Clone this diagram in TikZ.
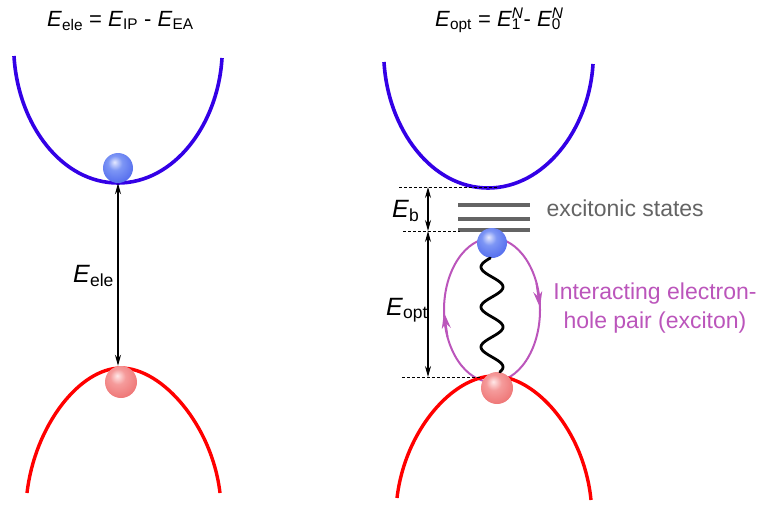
\documentclass[tikz,border=0pt]{standalone}
\usepackage{fontspec}
\setmainfont{Liberation Sans}
\usetikzlibrary{arrows.meta,positioning}
\usepackage{xcolor}

\definecolor{cbblue}{RGB}{51,0,230}
\definecolor{vbred}{RGB}{255,0,0}
\definecolor{excpurple}{RGB}{187,85,187}
\definecolor{stategray}{RGB}{100,100,100}
\definecolor{ehi}{RGB}{228,232,255}
\definecolor{emid}{RGB}{125,150,245}
\definecolor{ebody}{RGB}{70,95,235}
\definecolor{eedge}{RGB}{35,55,215}
\definecolor{hhi}{RGB}{255,232,232}
\definecolor{hmid}{RGB}{245,155,155}
\definecolor{hbody}{RGB}{236,105,105}
\definecolor{hedge}{RGB}{222,72,72}
\pgfdeclareradialshading{eshade}{\pgfpoint{-6bp}{10bp}}{color(0bp)=(ehi); color(12bp)=(emid); color(38bp)=(ebody); color(56bp)=(eedge); color(70bp)=(eedge)}
\pgfdeclareradialshading{hshade}{\pgfpoint{-6bp}{10bp}}{color(0bp)=(hhi); color(12bp)=(hmid); color(38bp)=(hbody); color(56bp)=(hedge); color(70bp)=(hedge)}

\begin{document}
\begin{tikzpicture}[
    x=1pt, y=-1pt,
    cb/.style={draw=cbblue, line width=3.6pt},
    vb/.style={draw=vbred, line width=3.4pt},
    elec/.style={circle, minimum size=30pt, inner sep=0pt, shading=eshade},
    hole/.style={circle, minimum size=32pt, inner sep=0pt, shading=hshade},
    gap/.style={{Stealth[length=11pt,width=6pt]}-{Stealth[length=11pt,width=6pt]}, line width=1.1pt},
    guide/.style={dash pattern=on 3pt off 2pt, line width=1pt},
    level/.style={draw=stategray, line width=3.4pt},
    exloop/.style={draw=excpurple, line width=2pt},
    looptip/.style={exloop, -{Stealth[length=16pt,width=9pt]}},
    lbl/.style={font=\fontsize{25}{30}\selectfont, anchor=base west, inner sep=0pt},
    ttl/.style={font=\fontsize{22}{26}\selectfont, anchor=base west, inner sep=0pt},
    txt/.style={font=\fontsize{23}{29}\selectfont, align=center}
]
\useasboundingbox (0,0) rectangle (765,506);

% titles
\node[ttl] (ttlele) at (47,26) {\textit{E}\textsubscript{ele} = \textit{E}\textsubscript{IP} - \textit{E}\textsubscript{EA}};
\node[ttl] (ttlopt) at (435,26) {\textit{E}\textsubscript{opt} = \textit{E}\rlap{\textsubscript{1}}\textsuperscript{\textit{N}}- \textit{E}\rlap{\textsubscript{0}}\textsuperscript{\textit{N}}};

% bands
\draw[cb] (14,56) .. controls (18,125) and (62,183) .. (118,183) .. controls (174,183) and (218,125) .. (222,58);
\draw[vb] (27,493) .. controls (35,425) and (80,368) .. (121,368) .. controls (162,368) and (212,425) .. (220,493);
\draw[cb] (384,62) .. controls (388,130) and (432,188) .. (488,188) .. controls (544,188) and (589,130) .. (593,64);

% exciton loop
\coordinate (loopc) at (492,310);
\draw[exloop] (loopc) ellipse [x radius=48, y radius=72];
\draw[looptip] ([shift={(158:48 and 72)}]loopc) -- ([shift={(178:48 and 72)}]loopc);
\draw[looptip] ([shift={(338:48 and 72)}]loopc) -- ([shift={(358:48 and 72)}]loopc);

\draw[vb] (397,498) .. controls (405,430) and (453,376) .. (494,376) .. controls (535,376) and (584,430) .. (591,500);

% excitonic levels
\draw[level] (458,205) -- (530,205);
\draw[level] (458,219) -- (530,219);
\draw[level] (458,230) -- (530,230);
\node[txt, text=stategray, anchor=west] (states) at (543,208) {excitonic states};
\node[txt, text=excpurple] (pair) at (655,308) {Interacting electron-\\hole pair (exciton)};

% guides and gaps
\coordinate (cbmin) at (399,187);
\coordinate (cbminend) at (498,187);
\coordinate (xsmin) at (403,231);
\coordinate (xsminend) at (460,231);
\coordinate (vbmax) at (402,377);
\coordinate (vbmaxend) at (482,377);
\draw[guide] (cbmin) -- (cbminend);
\draw[guide] (xsmin) -- (xsminend);
\draw[guide] (vbmax) -- (vbmaxend);

\coordinate (gtop) at (428,187);
\coordinate (gmid) at (428,231);
\coordinate (gbot) at (428,377);
\draw[gap] (gtop) -- (gmid);
\draw[gap] (gmid) -- (gbot);
\node[lbl] (eb) at (392,217) {\textit{E}\textsubscript{b}};
\node[lbl] (eopt) at (386,315) {\textit{E}\textsubscript{opt}};

% particles
\node[elec] (eL) at (118,168) {};
\node[hole] (hL) at (121,382) {};
\node[elec] (eR) at (492,243) {};
\node[hole] (hR) at (497,388) {};

\draw[gap] (eL.south) -- (eL.south |- hL.north);
\node[lbl] (eele) at (73,282) {\textit{E}\textsubscript{ele}};

% binding
\draw[line width=2.8pt, line cap=round] plot[domain=258:372, samples=120, smooth] ({492-11*sin((\x-257)*9)}, \x);
\end{tikzpicture}
\end{document}
